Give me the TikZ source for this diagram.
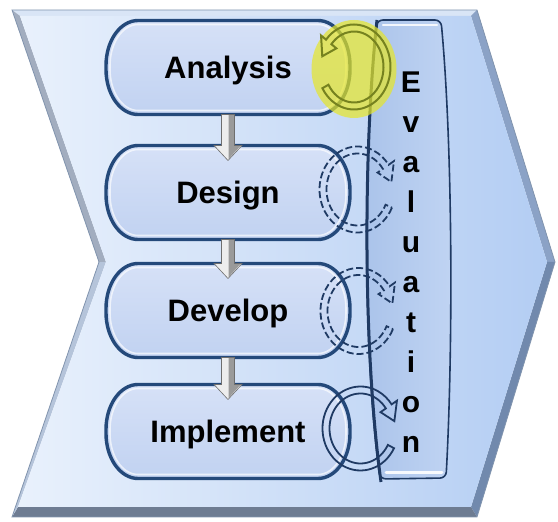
\documentclass[tikz,border=0pt]{standalone}
\usepackage{fontspec}
\setmainfont{Liberation Sans}
\usetikzlibrary{calc}

% palette
\definecolor{navy}{HTML}{1F3A63}
\definecolor{boxedge}{HTML}{24497A}
\definecolor{boxtop}{HTML}{D6E1F7}
\definecolor{boxbot}{HTML}{C1D2F1}
\definecolor{chevL}{HTML}{E9F1FC}
\definecolor{chevR}{HTML}{B3CDF3}
\definecolor{bevTop}{HTML}{D9E5F6}
\definecolor{bevUR}{HTML}{8BA2C6}
\definecolor{bevLR}{HTML}{7189AD}
\definecolor{bevBot}{HTML}{6E7C92}
\definecolor{bevLL}{HTML}{B5C4DA}
\definecolor{bevUL}{HTML}{A2ADBF}
\definecolor{chevEdge}{HTML}{8194AE}
\definecolor{barL}{HTML}{AAC3EA}
\definecolor{barM}{HTML}{D6E4F9}
\definecolor{barR}{HTML}{C0D4F3}
\definecolor{hlYellow}{HTML}{E6E628}
\definecolor{olive}{HTML}{76821F}
\definecolor{arrLight}{HTML}{EDEDED}
\definecolor{arrDark}{HTML}{9A9A9A}
\definecolor{arrEdge}{HTML}{6E6E6E}

\newfontfamily\labelfamily{Liberation Sans}

% outline of a step box with elliptical ends, inset by #2
\newcommand\pillpath[3]{%
  \path[#3] let \p1=(#1.south west), \p2=(#1.north east) in
    (\x1+32pt,\y2-#2) -- (\x2-32pt,\y2-#2)
    arc[start angle=90,end angle=0,x radius=32pt-#2,y radius=45pt-#2]
    -- (\x2-#2,\y1+45pt)
    arc[start angle=0,end angle=-90,x radius=32pt-#2,y radius=45pt-#2]
    -- (\x1+32pt,\y1+#2)
    arc[start angle=270,end angle=180,x radius=32pt-#2,y radius=45pt-#2]
    -- (\x1+#2,\y2-45pt)
    arc[start angle=180,end angle=90,x radius=32pt-#2,y radius=45pt-#2]
    -- cycle;
}
\newcommand\stepbody[1]{%
  \begin{scope}[shift={(1pt,-3pt)}]\pillpath{#1}{0pt}{fill=black,opacity=.25}\end{scope}
  \pillpath{#1}{0pt}{top color=boxtop,bottom color=boxbot,draw=boxedge,line width=3.4pt}
  \pillpath{#1}{4pt}{draw=white,opacity=.65,line width=1.6pt}
}

% hollow circular block arrow: style, centre, rx, ry, tail angle, head angle
\newcommand\cyclearrow[6]{%
  \pgfmathsetmacro\rox{#3+3.5}\pgfmathsetmacro\roy{#4+3.5}%
  \pgfmathsetmacro\rix{#3-3.5}\pgfmathsetmacro\riy{#4-3.5}%
  \pgfmathsetmacro\hox{#3+10}\pgfmathsetmacro\hoy{#4+10}%
  \pgfmathsetmacro\hix{#3-10}\pgfmathsetmacro\hiy{#4-10}%
  \pgfmathsetmacro\tipang{#6+24*sign(#6-#5)}%
  \draw[#1,shift={(#2)}]
    (#5:\rox pt and \roy pt)
    arc[start angle=#5,end angle=#6,x radius=\rox pt,y radius=\roy pt]
    -- (#6:\hox pt and \hoy pt)
    -- (\tipang:#3pt and #4pt)
    -- (#6:\hix pt and \hiy pt)
    -- (#6:\rix pt and \riy pt)
    arc[start angle=#6,end angle=#5,x radius=\rix pt,y radius=\riy pt]
    -- cycle;
}

% grey block arrow from one box down into the next
\newcommand\stepdown[2]{%
  \path[fill=arrLight]
    let \p1=(#1.south), \p2=([yshift=-15pt]#2.north) in
    (\x1-6.5pt,\y1) -- (\x1+6.5pt,\y1) -- (\x1+6.5pt,\y2+15pt) -- (\x1+14pt,\y2+15pt)
    -- (\x1,\y2) -- (\x1-14pt,\y2+15pt) -- (\x1-6.5pt,\y2+15pt) -- cycle;
  \path[fill=arrDark]
    let \p1=(#1.south), \p2=([yshift=-15pt]#2.north) in
    (\x1+.5pt,\y1-.3pt) -- (\x1+6.2pt,\y1-.3pt) -- (\x1+6.2pt,\y2+15.3pt) -- (\x1+13pt,\y2+15.3pt)
    -- (\x1+.5pt,\y2+1.5pt) -- cycle;
  \path[draw=arrEdge,line width=.6pt]
    let \p1=(#1.south), \p2=([yshift=-15pt]#2.north) in
    (\x1-6.5pt,\y1) -- (\x1+6.5pt,\y1) -- (\x1+6.5pt,\y2+15pt) -- (\x1+14pt,\y2+15pt)
    -- (\x1,\y2) -- (\x1-14pt,\y2+15pt) -- (\x1-6.5pt,\y2+15pt) -- cycle;
}

\begin{document}
\begin{tikzpicture}[x=1pt,y=1pt,
  slot/.style={minimum width=244pt,minimum height=94pt,inner sep=0pt,outer sep=0pt},
  steplabel/.style={inner sep=0pt,text height=23pt,text depth=0pt,
    font=\labelfamily\bfseries\fontsize{31}{36}\selectfont},
  evl/.style={anchor=base,inner sep=0pt,
    font=\labelfamily\bfseries\fontsize{30}{36}\selectfont},
  dashring/.style={draw=navy,line width=1.8pt,dash pattern=on 7pt off 3pt},
  solidring/.style={draw=navy,line width=1.8pt},
  olivering/.style={draw=olive,line width=2pt}]

\useasboundingbox (0,0) rectangle (558,522);

% chevron outline points
\coordinate (o1) at (12,512);  \coordinate (o2) at (477,512);
\coordinate (o3) at (555,260); \coordinate (o4) at (477,5);
\coordinate (o5) at (12,5);    \coordinate (o6) at (99,260);
\coordinate (i1) at (20,506);  \coordinate (i2) at (471,506);
\coordinate (i3) at (547,260); \coordinate (i4) at (471,15);
\coordinate (i5) at (18,15);   \coordinate (i6) at (106,260);

% bevelled rim
\fill[bevTop] (o1)--(o2)--(i2)--(i1)--cycle;
\fill[bevUR]  (o2)--(o3)--(i3)--(i2)--cycle;
\fill[bevLR]  (o3)--(o4)--(i4)--(i3)--cycle;
\fill[bevBot] (o4)--(o5)--(i5)--(i4)--cycle;
\fill[bevLL]  (o5)--(o6)--(i6)--(i5)--cycle;
\fill[bevUL]  (o6)--(o1)--(i1)--(i6)--cycle;
% face
\shade[left color=chevL,right color=chevR] (i1)--(i2)--(i3)--(i4)--(i5)--(i6)--cycle;
\draw[chevEdge,line width=.8pt] (o1)--(o2)--(o3)--(o4)--(o5)--(o6)--cycle;

% evaluation bar
\shadedraw[left color=barL,middle color=barM,right color=barR,draw=navy,
  line width=1.6pt,rounded corners=6pt]
  (408,502) -- (441,502) .. controls (453,372) and (453,172) .. (446,44)
  -- (380,43) .. controls (363,172) and (363,372) .. (377,502) -- cycle;
\draw[white,opacity=.85,line width=2.5pt,line cap=round] (383,497) -- (437,497);
\draw[white,opacity=.9,line width=3pt,line cap=round] (386,49) -- (442,49);
\draw[navy,line width=3pt] (381,40) .. controls (363,172) and (363,372) .. (377,502);

% process steps
\node[slot] (an) at (228,454.5) {};
\node[slot] (de) at (228,329.5) {};
\node[slot] (dv) at (228,211.5) {};
\node[slot] (im) at (228,90.5)  {};
\foreach \b in {an,de,dv,im} {\stepbody{\b}}
\node[steplabel] (an-l) at (an) {Analysis};
\node[steplabel] (de-l) at (de) {Design};
\node[steplabel] (dv-l) at (dv) {Develop};
\node[steplabel] (im-l) at (im) {Implement};

\stepdown{an}{de}
\stepdown{de}{dv}
\stepdown{dv}{im}

% vertical label
\foreach \ch [count=\k] in {E,v,a,l,u,a,t,i,o,n}
  \node[evl] (ev\k) at (411,469-40*\k) {\ch};

% cycle markers
\coordinate (c1) at (354,455);
\coordinate (c2) at (357.5,332.5);
\coordinate (c3) at (358.5,211);
\coordinate (c4) at (360.5,93.5);
\fill[hlYellow,opacity=.7] (354,453) ellipse [x radius=42.5pt,y radius=49pt];
\cyclearrow{olivering}{c1}{33}{39}{-150}{140}
\cyclearrow{dashring}{c2}{34.5}{39.5}{-25}{-325}
\cyclearrow{dashring}{c3}{34.5}{39.5}{-25}{-325}
\cyclearrow{solidring}{c4}{34.5}{38.5}{-28}{-325}

\end{tikzpicture}
\end{document}
